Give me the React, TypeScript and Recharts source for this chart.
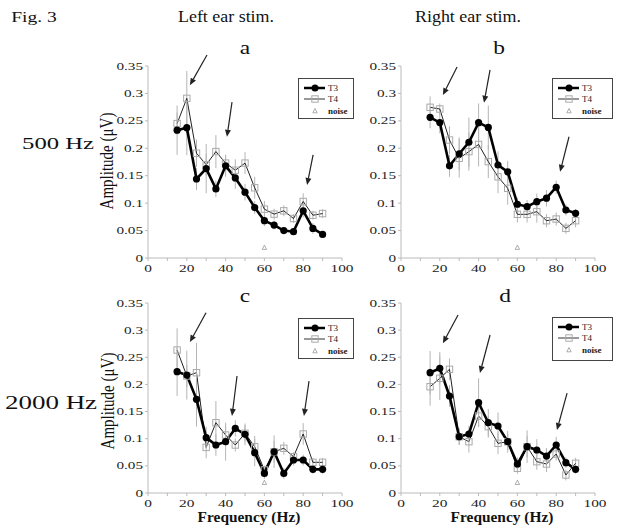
import { LineChart, Line, XAxis, YAxis, ErrorBar, ReferenceLine, Legend } from "recharts";

// frequency of modulation (Hz)
const FREQ = [15, 20, 25, 30, 35, 40, 45, 50, 55, 60, 65, 70, 75, 80, 85, 90];
const X_TICKS = [0, 10, 20, 30, 40, 50, 60, 70, 80, 90, 100];
const X_TICK_LABELS = ["0", "", "20", "", "40", "", "60", "", "80", "", "100"];
const Y_TICKS = [0, 0.05, 0.1, 0.15, 0.2, 0.25, 0.3, 0.35];
const Y_TICK_LABELS = ["0", "0.05", "0.1", "0.15", "0.2", "0.25", "0.3", "0.35"];
const KEY_NAMES = ["T3", "T4", "noise"];
const NOISE_FREQ = 60;

// a: 500 Hz, left ear
const A_T3 = [0.233, 0.2375, 0.144, 0.163, 0.126, 0.168, 0.146, 0.12, 0.092, 0.068, 0.06, 0.05, 0.048, 0.086, 0.054, 0.043];
const A_T4 = [0.245, 0.291, 0.191, 0.17, 0.194, 0.173, 0.16, 0.173, 0.128, 0.089, 0.08, 0.086, 0.072, 0.103, 0.078, 0.081];
const A_T3_ERR = [0.045, 0.05, 0.02, 0.045, 0.015, 0.02, 0.02, 0.015, 0.012, 0.01, 0.008, 0.006, 0.006, 0.012, 0.01, 0.005];
const A_T4_ERR = [0.02, 0.05, 0.025, 0.02, 0.03, 0.015, 0.02, 0.02, 0.02, 0.015, 0.01, 0.01, 0.008, 0.015, 0.008, 0.008];
const A_NOISE = 0.019;
const A_ARROWS = [
  [30.4, 0.37, 21.6, 0.315],
  [43.3, 0.284, 40.7, 0.221],
  [85.1, 0.188, 82, 0.133],
];

// b: 500 Hz, right ear
const B_T3 = [0.2565, 0.247, 0.168, 0.19, 0.211, 0.2467, 0.238, 0.1695, 0.157, 0.098, 0.0935, 0.1026, 0.109, 0.129, 0.0875, 0.0814];
const B_T4 = [0.2747, 0.2716, 0.215, 0.1817, 0.194, 0.207, 0.1756, 0.148, 0.127, 0.0796, 0.0796, 0.0845, 0.068, 0.071, 0.054, 0.068];
const B_T3_ERR = [0.02, 0.02, 0.02, 0.03, 0.045, 0.035, 0.04, 0.025, 0.02, 0.012, 0.012, 0.015, 0.015, 0.012, 0.01, 0.008];
const B_T4_ERR = [0.02, 0.01, 0.025, 0.035, 0.035, 0.04, 0.03, 0.03, 0.03, 0.015, 0.015, 0.02, 0.012, 0.012, 0.01, 0.012];
const B_NOISE = 0.019;
const B_ARROWS = [
  [28.9, 0.348, 21.6, 0.297],
  [45.9, 0.343, 42.8, 0.283],
  [86.6, 0.221, 82, 0.157],
];

// c: 2000 Hz, left ear
const C_T3 = [0.2235, 0.2173, 0.1725, 0.102, 0.0884, 0.0945, 0.119, 0.108, 0.0743, 0.036, 0.076, 0.036, 0.0608, 0.0608, 0.0436, 0.0436];
const C_T4 = [0.2634, 0.2155, 0.2216, 0.084, 0.1295, 0.1068, 0.0884, 0.11, 0.0853, 0.0424, 0.076, 0.0823, 0.0669, 0.1087, 0.0565, 0.0565];
const C_T3_ERR = [0.045, 0.045, 0.05, 0.02, 0.02, 0.035, 0.015, 0.02, 0.025, 0.01, 0.03, 0.01, 0.01, 0.01, 0.008, 0.008];
const C_T4_ERR = [0.04, 0.02, 0.055, 0.02, 0.04, 0.02, 0.012, 0.015, 0.02, 0.008, 0.02, 0.012, 0.008, 0.02, 0.008, 0.008];
const C_NOISE = 0.019;
const C_ARROWS = [
  [29.9, 0.332, 21.6, 0.278],
  [45.9, 0.2155, 43.3, 0.142],
  [83, 0.206, 80.4, 0.142],
];

// d: 2000 Hz, right ear
const D_T3 = [0.2216, 0.2297, 0.1787, 0.1037, 0.1087, 0.1664, 0.1295, 0.1234, 0.0945, 0.0534, 0.0853, 0.0792, 0.068, 0.0884, 0.0559, 0.0436];
const D_T4 = [0.1958, 0.2113, 0.2278, 0.1037, 0.0945, 0.1418, 0.1221, 0.0915, 0.0945, 0.0455, 0.0853, 0.0577, 0.0534, 0.0718, 0.0332, 0.0547];
const D_T3_ERR = [0.04, 0.03, 0.02, 0.015, 0.015, 0.045, 0.025, 0.025, 0.02, 0.012, 0.03, 0.02, 0.015, 0.015, 0.01, 0.008];
const D_T4_ERR = [0.035, 0.04, 0.02, 0.015, 0.02, 0.02, 0.02, 0.02, 0.015, 0.01, 0.02, 0.015, 0.015, 0.012, 0.01, 0.01];
const D_NOISE = 0.019;
const D_ARROWS = [
  [29.4, 0.328, 21.6, 0.276],
  [45.9, 0.291, 40.7, 0.221],
  [85.6, 0.184, 80.4, 0.116],
];

const SERIF = "'Liberation Serif', 'Times New Roman', serif";

function XTick(props: any) {
  const { x, y, payload } = props;
  const label = X_TICK_LABELS[X_TICKS.indexOf(payload.value)] ?? "";
  return (
    <g transform={`translate(${x},${y})`}>
      <text x={0} y={0} dy={9} textAnchor="middle" fontSize={11} fontFamily={SERIF} fill="#222" transform="scale(1.4,1)">
        {label}
      </text>
    </g>
  );
}

function YTick(props: any) {
  const { x, y, payload } = props;
  const idx = Y_TICKS.findIndex((t) => Math.abs(t - payload.value) < 1e-9);
  return (
    <g transform={`translate(${x},${y})`}>
      <text x={0} y={0} dy={3.5} textAnchor="end" fontSize={10.5} fontFamily={SERIF} fill="#222" transform="scale(1.45,1)">
        {Y_TICK_LABELS[idx] ?? ""}
      </text>
    </g>
  );
}

function circleDot(props: any) {
  const { cx, cy, index } = props;
  if (cx == null || cy == null) return <g key={`c${index}`} />;
  return <circle key={`c${index}`} cx={cx} cy={cy} r={3.6} fill="#000" />;
}

function squareDot(props: any) {
  const { cx, cy, index } = props;
  if (cx == null || cy == null) return <g key={`s${index}`} />;
  return <rect key={`s${index}`} x={cx - 3.2} y={cy - 3.2} width={6.4} height={6.4} fill="none" stroke="#aaa" strokeWidth={1} />;
}

function triDot(props: any) {
  const { cx, cy, index, value } = props;
  if (cx == null || cy == null || value == null) return <g key={`t${index}`} />;
  return <path key={`t${index}`} d={`M${cx},${cy - 2.5}L${cx + 2.2},${cy + 1.8}L${cx - 2.2},${cy + 1.8}Z`} fill="none" stroke="#999" strokeWidth={0.8} />;
}

function arrowShape(props: any) {
  const { x1, y1, x2, y2 } = props;
  const ang = Math.atan2(y2 - y1, x2 - x1);
  const len = 7;
  const hw = 3;
  const bx = x2 - len * Math.cos(ang);
  const by = y2 - len * Math.sin(ang);
  const px = -Math.sin(ang) * hw;
  const py = Math.cos(ang) * hw;
  return (
    <g>
      <line x1={x1} y1={y1} x2={bx} y2={by} stroke="#222" strokeWidth={1.2} />
      <path d={`M${x2},${y2}L${bx + px},${by + py}L${bx - px},${by - py}Z`} fill="#222" />
    </g>
  );
}

function KeyBox({ w, h }: { w: number; h: number }) {
  return (
    <div style={{ width: w, height: h, border: "1.5px solid #444", background: "#fff", boxSizing: "border-box" }}>
      <svg width={w - 3} height={h - 3} style={{ display: "block" }}>
        <line x1={5} y1={9} x2={26} y2={9} stroke="#000" strokeWidth={2.5} />
        <circle cx={16} cy={9} r={3.5} fill="#000" />
        <text x={29} y={12} fontSize={9} fontFamily={SERIF} fill="#222">{KEY_NAMES[0]}</text>
        <line x1={5} y1={20} x2={26} y2={20} stroke="#333" strokeWidth={1} />
        <rect x={12.8} y={16.8} width={6.4} height={6.4} fill="none" stroke="#aaa" />
        <text x={29} y={23} fontSize={9} fontFamily={SERIF} fill="#222">{KEY_NAMES[1]}</text>
        <path d="M16,29.5L18.2,33.8L13.8,33.8Z" fill="none" stroke="#999" strokeWidth={0.8} />
        <text x={29} y={35} fontSize={9} fontWeight="bold" fontFamily={SERIF} fill="#222">{KEY_NAMES[2]}</text>
      </svg>
    </div>
  );
}

interface PanelProps {
  left: number;
  top: number;
  plotH: number;
  t3: number[];
  t4: number[];
  t3Err: number[];
  t4Err: number[];
  noise: number;
  arrows: number[][];
  keyLeft: number;
  keyTop: number;
  keyW: number;
  keyH: number;
}

function Panel(p: PanelProps) {
  const data = FREQ.map((f, i) => ({
    f,
    t3: p.t3[i],
    t4: p.t4[i],
    t3e: p.t3Err[i],
    t4e: p.t4Err[i],
    noise: f === NOISE_FREQ ? p.noise : null,
  }));
  const height = p.plotH + 50;
  return (
    <div style={{ position: "absolute", left: p.left, top: p.top }}>
      <LineChart width={269} height={height} data={data} margin={{ top: 20, right: 25, bottom: 8, left: 0 }}>
        <XAxis
          dataKey="f"
          type="number"
          domain={[0, 100]}
          ticks={X_TICKS}
          interval={0}
          tick={(t: any) => <XTick {...t} />}
          tickSize={3}
          height={22}
          stroke="#bbb"
          allowDataOverflow
        />
        <YAxis
          type="number"
          domain={[0, 0.35]}
          ticks={Y_TICKS}
          interval={0}
          tick={(t: any) => <YTick {...t} />}
          tickSize={3}
          width={50}
          stroke="#bbb"
          allowDataOverflow
        />
        {p.arrows.map((a, i) => (
          <ReferenceLine
            key={i}
            segment={[{ x: a[0], y: a[1] }, { x: a[2], y: a[3] }]}
            ifOverflow="visible"
            shape={arrowShape}
          />
        ))}
        <Line dataKey="t4" stroke="#222" strokeWidth={1} dot={squareDot} isAnimationActive={false}>
          <ErrorBar dataKey="t4e" width={0} stroke="#b5b5b5" strokeWidth={1} direction="y" />
        </Line>
        <Line dataKey="t3" stroke="#000" strokeWidth={2.6} dot={circleDot} isAnimationActive={false}>
          <ErrorBar dataKey="t3e" width={0} stroke="#b5b5b5" strokeWidth={1} direction="y" />
        </Line>
        <Line dataKey="noise" stroke="none" dot={triDot} isAnimationActive={false} />
        <Legend
          layout="horizontal"
          verticalAlign="middle"
          align="center"
          wrapperStyle={{ left: p.keyLeft, top: p.keyTop, width: "auto" }}
          content={() => <KeyBox w={p.keyW} h={p.keyH} />}
        />
      </LineChart>
    </div>
  );
}

function Txt({ x, y, size, sx = 1, bold = false, children }: any) {
  return (
    <div
      style={{
        position: "absolute",
        left: x,
        top: y,
        transform: `translate(-50%, -50%) scaleX(${sx})`,
        fontFamily: SERIF,
        fontSize: size,
        fontWeight: bold ? "bold" : "normal",
        lineHeight: 1,
        whiteSpace: "nowrap",
        color: "#111",
      }}
    >
      {children}
    </div>
  );
}

function VTxt({ x, y, size, children }: any) {
  return (
    <div
      style={{
        position: "absolute",
        left: x,
        top: y,
        transform: "translate(-50%, -50%) rotate(-90deg) scaleY(1.3)",
        fontFamily: SERIF,
        fontSize: size,
        lineHeight: 1,
        whiteSpace: "nowrap",
        color: "#111",
      }}
    >
      {children}
    </div>
  );
}

export default function App() {
  return (
    <div style={{ position: "absolute", left: 0, top: 0, width: 624, height: 529, background: "#fff", overflow: "hidden" }}>
      <Txt x={34} y={17} size={15} sx={1.3}>Fig. 3</Txt>
      <Txt x={226} y={17} size={16} sx={1.12}>Left ear stim.</Txt>
      <Txt x={468} y={17} size={16} sx={1.12}>Right ear stim.</Txt>
      <Txt x={245} y={48} size={18} sx={1.3}>a</Txt>
      <Txt x={499} y={48} size={18} sx={1.3}>b</Txt>
      <Txt x={245} y={296} size={18} sx={1.3}>c</Txt>
      <Txt x={505} y={296} size={18} sx={1.3}>d</Txt>
      <Txt x={58} y={143} size={17} sx={1.45}>500 Hz</Txt>
      <Txt x={51} y={403} size={18} sx={1.5}>2000 Hz</Txt>
      <VTxt x={107} y={161} size={15}>Amplitude (μV)</VTxt>
      <VTxt x={108} y={401} size={15}>Amplitude (μV)</VTxt>

      <Panel left={98} top={46} plotH={192} t3={A_T3} t4={A_T4} t3Err={A_T3_ERR} t4Err={A_T4_ERR} noise={A_NOISE} arrows={A_ARROWS} keyLeft={200} keyTop={32} keyW={56} keyH={41} />
      <Panel left={351} top={46} plotH={192} t3={B_T3} t4={B_T4} t3Err={B_T3_ERR} t4Err={B_T4_ERR} noise={B_NOISE} arrows={B_ARROWS} keyLeft={201} keyTop={32} keyW={61} keyH={41} />
      <Panel left={98} top={283} plotH={190} t3={C_T3} t4={C_T4} t3Err={C_T3_ERR} t4Err={C_T4_ERR} noise={C_NOISE} arrows={C_ARROWS} keyLeft={200} keyTop={35} keyW={56} keyH={41} />
      <Panel left={351} top={283} plotH={190} t3={D_T3} t4={D_T4} t3Err={D_T3_ERR} t4Err={D_T4_ERR} noise={D_NOISE} arrows={D_ARROWS} keyLeft={201} keyTop={34} keyW={61} keyH={44} />

      <Txt x={249} y={518} size={14} sx={1.1} bold>Frequency (Hz)</Txt>
      <Txt x={502} y={518} size={14} sx={1.1} bold>Frequency (Hz)</Txt>
    </div>
  );
}
